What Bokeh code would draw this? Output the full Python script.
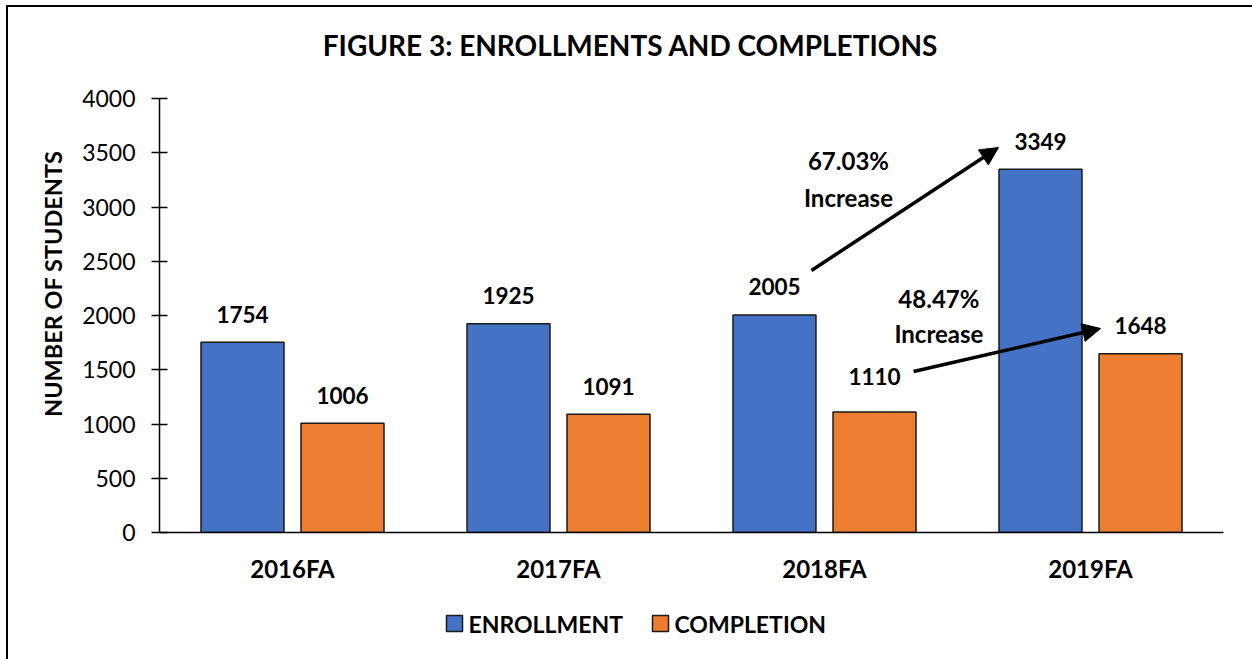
from bokeh.plotting import figure
from bokeh.layouts import column
from bokeh.models import (FactorRange, ColumnDataSource, LabelSet, Label, Arrow,
                          NormalHead, Title)
from bokeh.core.properties import value
from bokeh.transform import dodge
from bokeh.embed import file_html
from bokeh.resources import INLINE

# ---- data ----
terms = ["2016FA", "2017FA", "2018FA", "2019FA"]
enrollment = [1754, 1925, 2005, 3349]
completion = [1006, 1091, 1110, 1648]
series_names = ["ENROLLMENT", "COMPLETION"]
y_ticks = [0, 500, 1000, 1500, 2000, 2500, 3000, 3500, 4000]
chart_title = "FIGURE 3: ENROLLMENTS AND COMPLETIONS"
y_title = "NUMBER OF STUDENTS"

# ---- style ----
FONT = "Lato"
BLUE = "#4472C4"
ORANGE = "#ED7D31"
EDGE = "#1a1a1a"
BAR_W = 0.312
OFF = 0.188
enr_label_offsets = [28, 28, 28, 28]
comp_label_offsets = [28, 28, 36, 28]
W = 1244
BL, BR = 151, 29          # left / right borders (frame is aligned across the column)
PIX_X = (BL, W - BR)      # pixel-mapped x range for the title and legend strips

# ---- title strip ----
TH = 76
tf = figure(width=W, height=TH, output_backend="svg", toolbar_location=None,
            x_range=PIX_X, y_range=(0, TH), x_axis_location=None, y_axis_location=None,
            min_border_left=BL, min_border_right=BR, min_border_top=0, min_border_bottom=0)
tf.outline_line_color = None
tf.grid.visible = False
tf.text(x=[622], y=[39], text=[chart_title], text_align="center", text_baseline="middle",
        text_font=value(FONT), text_font_style="bold", text_font_size="28px",
        text_color="black")

# ---- main chart ----
src = ColumnDataSource(dict(term=terms, enr=enrollment, comp=completion,
                            enr_t=[str(v) for v in enrollment],
                            comp_t=[str(v) for v in completion],
                            enr_o=enr_label_offsets, comp_o=comp_label_offsets))

p = figure(x_range=FactorRange(factors=terms), y_range=(0, 4000),
           width=W, height=517, output_backend="svg", toolbar_location=None,
           min_border_left=BL, min_border_right=BR, min_border_top=15,
           min_border_bottom=68)
p.outline_line_color = None
p.grid.visible = False
p.background_fill_color = "white"

r1 = p.vbar(x=dodge("term", -OFF, range=p.x_range), top="enr", width=BAR_W,
            source=src, fill_color=BLUE, line_color=EDGE, line_width=1.5)
r2 = p.vbar(x=dodge("term", OFF, range=p.x_range), top="comp", width=BAR_W,
            source=src, fill_color=ORANGE, line_color=EDGE, line_width=1.5)

# data labels
for col, txt, off, yo in (("enr", "enr_t", -OFF, "enr_o"), ("comp", "comp_t", OFF, "comp_o")):
    p.add_layout(LabelSet(x=dodge("term", off, range=p.x_range), y=col, text=txt,
                          source=src, y_offset=yo, text_align="center",
                          text_baseline="middle", text_font=value(FONT),
                          text_font_style="bold", text_font_size="22.5px",
                          text_color="black"))

# axes
ya = p.yaxis[0]
ya.ticker = y_ticks
ya.major_tick_in = 8
ya.major_tick_out = 8
ya.minor_tick_out = 0
ya.minor_tick_in = 0
ya.major_label_standoff = 16
ya.major_label_text_font = FONT
ya.major_label_text_font_size = "23px"
ya.major_label_text_color = "black"
ya.axis_line_color = "black"
ya.axis_line_width = 1.5
ya.major_tick_line_color = "black"
ya.major_tick_line_width = 1.5

# y-axis title as a side title, anchored near the top of the frame
p.add_layout(Title(text=y_title, align="right", offset=52,
                   text_font=FONT, text_font_style="bold", text_font_size="23.5px",
                   text_color="black", standoff=26), "left")

xa = p.xaxis[0]
xa.major_tick_out = 0
xa.major_tick_in = 0
xa.axis_line_color = "black"
xa.axis_line_width = 1.5
xa.major_label_standoff = 21
xa.major_label_text_font = FONT
xa.major_label_text_font_style = "bold"
xa.major_label_text_font_size = "24px"
xa.major_label_text_color = "black"

# growth annotations (percentages computed from the data)
enr_pct = (enrollment[3] - enrollment[2]) / enrollment[2] * 100
comp_pct = (completion[3] - completion[2]) / completion[2] * 100

# annotation placement (data coordinates on the categorical axis)
ann_enr_text_xy = (2.59, 3429, 3088)
ann_comp_text_xy = (2.93, 2157, 1834)
arrow_enr = (2.451, 2415, 3.154, 3548)
arrow_comp = (2.835, 1484, 3.538, 1880)

for (x, y1, y2), pct in ((ann_enr_text_xy, enr_pct), (ann_comp_text_xy, comp_pct)):
    for y, t in ((y1, f"{pct:.2f}%"), (y2, "Increase")):
        p.add_layout(Label(x=x, y=y, text=t, text_align="center",
                           text_baseline="middle", text_font=FONT,
                           text_font_style="bold", text_font_size="24px",
                           text_color="black"))

for xs, ys, xe, ye in (arrow_enr, arrow_comp):
    p.add_layout(Arrow(end=NormalHead(size=18, fill_color="black", line_color="black"),
                       x_start=xs, y_start=ys, x_end=xe, y_end=ye,
                       line_color="black", line_width=3.5))

# ---- legend strip below the chart (pixel-mapped ranges) ----
LH = 59
legend_glyph_x = [446, 652]
legend_y = 36
lf = figure(width=W, height=LH, output_backend="svg", toolbar_location=None,
            x_range=PIX_X, y_range=(0, LH), x_axis_location=None,
            y_axis_location=None, min_border_left=BL, min_border_right=BR,
            min_border_top=0, min_border_bottom=0)
lf.outline_line_color = None
lf.grid.visible = False
lsrc = ColumnDataSource(dict(x=legend_glyph_x, y=[legend_y, legend_y],
                             tx=[v + 14 for v in legend_glyph_x],
                             name=series_names, color=[BLUE, ORANGE]))
lf.scatter(x="x", y="y", marker="square", size=16, fill_color="color",
           line_color=EDGE, line_width=1.5, source=lsrc)
lf.text(x="tx", y="y", text="name", source=lsrc, text_align="left",
        text_baseline="middle", text_font=value(FONT), text_font_style="bold",
        text_font_size="23px", text_color="black")

page = column(tf, p, lf, spacing=0)
page.styles = {"margin-left": "6px", "margin-top": "5px",
               "border-left": "2px solid black", "border-top": "2px solid black"}

open("out.html", "w").write(file_html(page, INLINE))
